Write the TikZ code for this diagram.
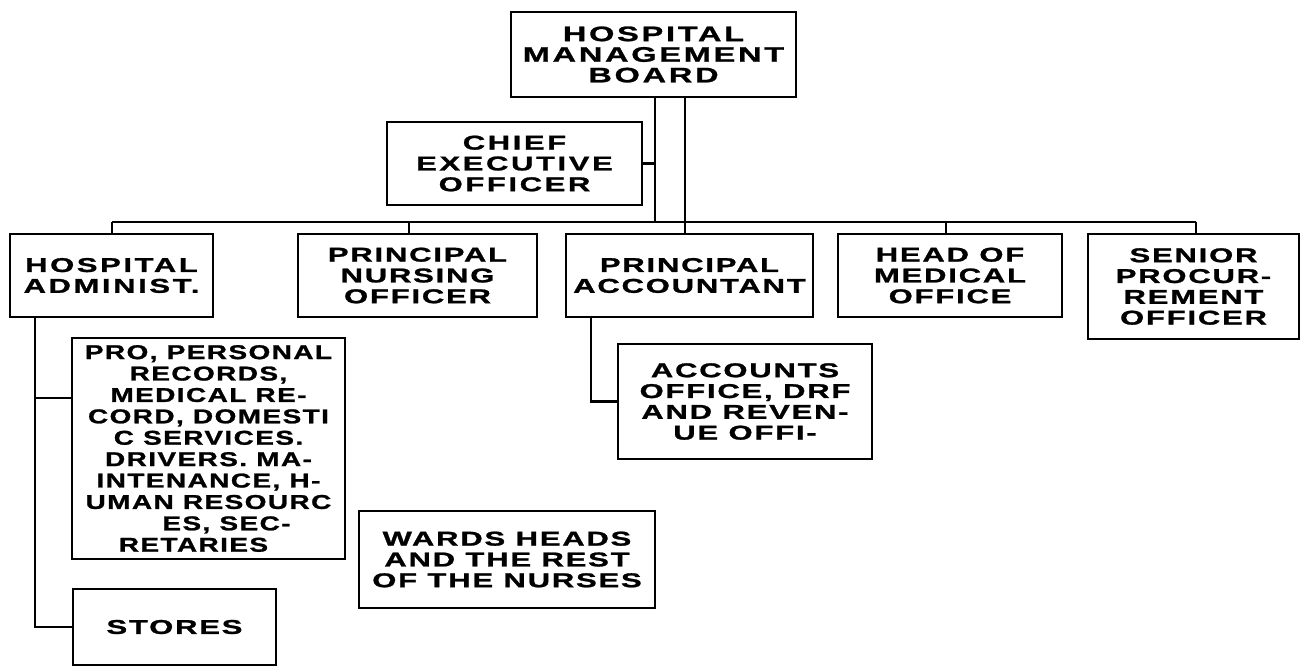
\documentclass[tikz,border=0pt]{standalone}
\usepackage{fontspec}
\newfontfamily\boxfont{Liberation Sans}[FakeStretch=1.55,LetterSpace=9,FakeBold=1.2]
\newfontfamily\loosefont{Liberation Sans}[FakeStretch=1.55,LetterSpace=13,FakeBold=1.2]
\newfontfamily\narrowfont{Liberation Sans}[FakeStretch=1.4,LetterSpace=7,FakeBold=1.2]
\begin{document}
\begin{tikzpicture}[x=0.5pt,y=-0.5pt,
  unit/.style={draw, line width=1.4pt, inner sep=0pt, align=center,
    font=\boxfont\bfseries\fontsize{10}{10.4}\selectfont},
  loose/.style={font=\loosefont\bfseries\fontsize{10}{10.4}\selectfont},
  headline/.style={font=\loosefont\bfseries\fontsize{10.5}{10.3}\selectfont},
  dense/.style={font=\narrowfont\bfseries\fontsize{10}{10.7}\selectfont},
  sz/.style 2 args={minimum width={#1*0.5pt}, minimum height={#2*0.5pt}},
  link/.style={line width=1.2pt}]
\useasboundingbox (0,0) rectangle (1308,666);
\fill[white] (0,0) rectangle (1308,666);

% boxes
\node[unit,headline,sz={285}{85}] (hmb) at (653.5,54.5) {HOSPITAL\\MANAGEMENT\\BOARD};
\node[unit,loose,sz={255}{83}] (ceo) at (514.5,163.5) {CHIEF\\EXECUTIVE\\OFFICER};
\node[unit,loose,sz={203}{83}] (ha)  at (111.5,275.5) {HOSPITAL\\ADMINIST.};
\node[unit,sz={239}{83}]  (pno) at (417.5,275.5) {PRINCIPAL\\NURSING\\OFFICER};
\node[unit,sz={247}{83}]  (pa)  at (689.5,275.5) {PRINCIPAL\\ACCOUNTANT};
\node[unit,sz={224}{83}]  (hmo) at (950,275.5) {HEAD OF\\MEDICAL\\OFFICE};
\node[unit,sz={211}{105}] (spo) at (1193.5,286.5) {SENIOR\\PROCUR-\\REMENT\\OFFICER};
\node[unit,dense,sz={273}{221}] (pro) at (208.5,448.5) {PRO, PERSONAL\\RECORDS,\\MEDICAL RE-\\CORD, DOMESTI\\C SERVICES.\\DRIVERS. MA-\\INTENANCE, H-\\UMAN RESOURC\\\mbox{\hspace{18pt}ES, SEC-}\\\mbox{RETARIES\hspace{15pt}}};
\node[unit,sz={203}{76}]  (sto) at (174.5,627) {STORES};
\node[unit,sz={296}{97}]  (wrd) at (507,559.5) {WARDS HEADS\\AND THE REST\\OF THE NURSES};
\node[unit,sz={254}{115}] (ao)  at (745,401.5) {ACCOUNTS\\OFFICE, DRF\\AND REVEN-\\UE OFFI-};

% connector anchor points
\coordinate (trunk) at (655,222);
\coordinate (pacol) at (685,0);
\coordinate (busL)  at (112,222);
\coordinate (busR)  at (1196,222);
\coordinate (pnoc)  at (409,222);
\coordinate (hmoc)  at (946,222);
\coordinate (hacol) at (35,0);
\coordinate (probr) at (35,398);
\coordinate (pacl)  at (591,0);

% connectors
\draw[link] (hmb.south -| trunk) -- (trunk);
\draw[link] (ceo.east) -- (ceo.east -| trunk);
\draw[link] (hmb.south -| pacol) -- (pa.north -| pacol);
\draw[link] (busL) -- (busR);
\draw[link] (busL) -- (ha.north -| busL);
\draw[link] (pnoc) -- (pno.north -| pnoc);
\draw[link] (hmoc) -- (hmo.north -| hmoc);
\draw[link] (busR) -- (spo.north -| busR);
\draw[link] (ha.south -| hacol) |- (sto.west);
\draw[link] (probr) -- (probr -| pro.west);
\draw[link] (pa.south -| pacl) |- (ao.west);
\end{tikzpicture}
\end{document}
